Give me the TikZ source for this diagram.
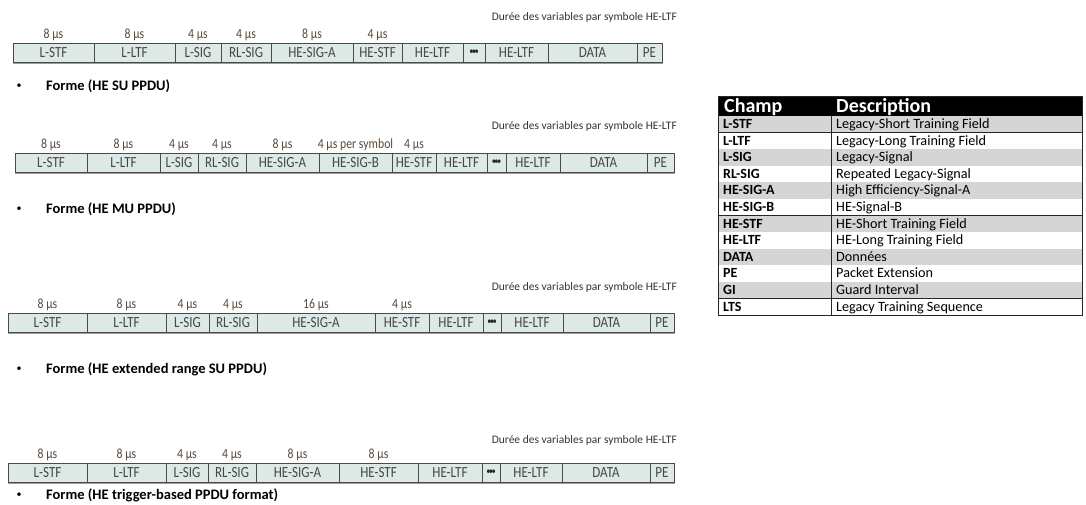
\documentclass[tikz,border=0pt]{standalone}
\usepackage{fontspec}
\setmainfont{Carlito}
\newfontfamily\pktfont[FakeStretch=0.84]{Carlito}
\usetikzlibrary{positioning}

\definecolor{fieldfill}{HTML}{DDE9E4}
\definecolor{fieldline}{HTML}{4A4A4A}
\definecolor{fieldtext}{HTML}{474747}
\definecolor{durtext}{HTML}{5A4838}
\definecolor{rowgray}{HTML}{D5D5D5}

\newcommand\ltfdots{{\color{black!85}\fontsize{10}{10}\selectfont\textbullet\kern-1.6pt\textbullet\kern-1.6pt\textbullet}}

\tikzset{
  field/.style={draw=fieldline, fill=fieldfill, line width=1pt, minimum height=19pt,
    inner sep=0pt, text=fieldtext, font=\pktfont\fontsize{15.5}{15.5}\selectfont},
  dur/.style={text=durtext, inner sep=0pt, font=\pktfont\fontsize{14}{14}\selectfont},
  varlbl/.style={anchor=east, inner sep=0pt, text=black!80, font=\fontsize{11.5}{11.5}\selectfont},
  forme/.style={anchor=west, inner sep=0pt, font=\bfseries\fontsize{14.5}{14.5}\selectfont},
  shade/.style={fieldline!55, line width=1.4pt},
  head/.style={anchor=base west, inner sep=0pt, text=white, font=\bfseries\fontsize{20}{20}\selectfont},
  champ/.style={anchor=base west, inner sep=0pt, font=\bfseries\fontsize{14}{14}\selectfont},
  desc/.style={anchor=base west, inner sep=0pt, font=\fontsize{14.2}{14.2}\selectfont},
  tabline/.style={black!85, line width=0.6pt}
}

\begin{document}
\begin{tikzpicture}[x=1pt,y=-1pt]
\useasboundingbox (0,0) rectangle (1086,504);

% ---- HE SU PPDU
\node[varlbl] (varsu) at (677,17) {Durée des variables par symbole HE-LTF};
\foreach \l/\r/\n/\t in {13/94/lstf/L-STF, 94/175/lltf/L-LTF, 175/221/lsig/L-SIG,
    221/271/rlsig/RL-SIG, 271/353/hesiga/HE-SIG-A, 353/402/hestf/HE-STF,
    402/463/heltf/HE-LTF, 463/485/dots/\ltfdots, 485/548/heltfn/HE-LTF,
    548/637/data/DATA, 637/662/pe/PE}
  \node[field, minimum width={(\r-\l)*1pt}] (su\n) at ({(\l+\r)/2},52.5) {\t};
\draw[shade] ([yshift=-1.2pt]sulstf.south west) -- ([yshift=-1.2pt]supe.south east);
\foreach \n/\d in {lstf/8, lltf/8, lsig/4, rlsig/4, hesiga/8, hestf/4}
  \node[dur, above=2pt of su\n] {\d~µs};
\node (bsu) at (19,86) {\textbullet};
\node[forme] (formesu) at (46,86) {Forme (HE SU PPDU)};

% ---- HE MU PPDU
\node[varlbl] (varmu) at (677,126) {Durée des variables par symbole HE-LTF};
\foreach \l/\r/\n/\t in {15/87/lstf/L-STF, 87/160/lltf/L-LTF, 160/198/lsig/L-SIG,
    198/246/rlsig/RL-SIG, 246/319/hesiga/HE-SIG-A, 319/392/hesigb/HE-SIG-B,
    392/436/hestf/HE-STF, 436/487/heltf/HE-LTF, 487/506/dots/\ltfdots,
    506/560/heltfn/HE-LTF, 560/647/data/DATA, 647/674/pe/PE}
  \node[field, minimum width={(\r-\l)*1pt}] (mu\n) at ({(\l+\r)/2},162.5) {\t};
\draw[shade] ([yshift=-1.2pt]mulstf.south west) -- ([yshift=-1.2pt]mupe.south east);
\foreach \n/\d in {lstf/8~µs, lltf/8~µs, lsig/4~µs, rlsig/4~µs, hesiga/8~µs,
    hesigb/4~µs per symbol, hestf/4~µs}
  \node[dur, above=2pt of mu\n] {\d};
\node (bmu) at (19,209) {\textbullet};
\node[forme] (formemu) at (46,209) {Forme (HE MU PPDU)};

% ---- HE extended range SU PPDU
\node[varlbl] (varer) at (677,287) {Durée des variables par symbole HE-LTF};
\foreach \l/\r/\n/\t in {8/87/lstf/L-STF, 87/166/lltf/L-LTF, 166/209/lsig/L-SIG,
    209/257/rlsig/RL-SIG, 257/375/hesiga/HE-SIG-A, 375/429/hestf/HE-STF,
    429/483/heltf/HE-LTF, 483/501/dots/\ltfdots, 501/563/heltfn/HE-LTF,
    563/650/data/DATA, 650/674/pe/PE}
  \node[field, minimum width={(\r-\l)*1pt}] (er\n) at ({(\l+\r)/2},322.5) {\t};
\draw[shade] ([yshift=-1.2pt]erlstf.south west) -- ([yshift=-1.2pt]erpe.south east);
\foreach \n/\d in {lstf/8, lltf/8, lsig/4, rlsig/4, hesiga/16, hestf/4}
  \node[dur, above=2pt of er\n] {\d~µs};
\node (ber) at (19,369) {\textbullet};
\node[forme] (formeer) at (46,369) {Forme (HE extended range SU PPDU)};

% ---- HE trigger-based PPDU
\node[varlbl] (vartb) at (677,440) {Durée des variables par symbole HE-LTF};
\foreach \l/\r/\n/\t in {8/87/lstf/L-STF, 87/166/lltf/L-LTF, 166/208/lsig/L-SIG,
    208/256/rlsig/RL-SIG, 256/339/hesiga/HE-SIG-A, 339/418/hestf/HE-STF,
    418/482/heltf/HE-LTF, 482/500/dots/\ltfdots, 500/562/heltfn/HE-LTF,
    562/650/data/DATA, 650/674/pe/PE}
  \node[field, minimum width={(\r-\l)*1pt}] (tb\n) at ({(\l+\r)/2},472.5) {\t};
\draw[shade] ([yshift=-1.2pt]tblstf.south west) -- ([yshift=-1.2pt]tbpe.south east);
\foreach \n/\d in {lstf/8, lltf/8, lsig/4, rlsig/4, hesiga/8, hestf/8}
  \node[dur, above=2pt of tb\n] {\d~µs};
\node (btb) at (19,495) {\textbullet};
\node[forme] (formetb) at (46,495) {Forme (HE trigger-based PPDU format)};

% ---- table of fields
\fill[black] (718,96) rectangle (1082,116);
\node[head] (hchamp) at (724,112) {Champ};
\node[head] (hdesc) at (836,112) {Description};
\foreach \c/\f/\d [count=\i] in {rowgray/L-STF/Legacy-Short Training Field,
    white/L-LTF/Legacy-Long Training Field, rowgray/L-SIG/Legacy-Signal,
    white/RL-SIG/Repeated Legacy-Signal, rowgray/HE-SIG-A/High Efficiency-Signal-A,
    white/HE-SIG-B/HE-Signal-B, rowgray/HE-STF/HE-Short Training Field,
    white/HE-LTF/HE-Long Training Field, rowgray/DATA/Données,
    white/PE/Packet Extension, rowgray/GI/Guard Interval,
    white/LTS/Legacy Training Sequence}{
  \fill[\c] (718,{116+(\i-1)*16.6}) rectangle (1082,{116+\i*16.6});
  \node[champ] (f\i) at (723,{116+\i*16.6-4.2}) {\f};
  \node[desc] (d\i) at (836,{116+\i*16.6-4.2}) {\d};
  \draw[tabline] (718,{116+\i*16.6}) -- (1082,{116+\i*16.6});
}
\draw[tabline] (718,96) rectangle (1082,315.2);
\draw[tabline] (831,116) -- (831,315.2);
\end{tikzpicture}
\end{document}
